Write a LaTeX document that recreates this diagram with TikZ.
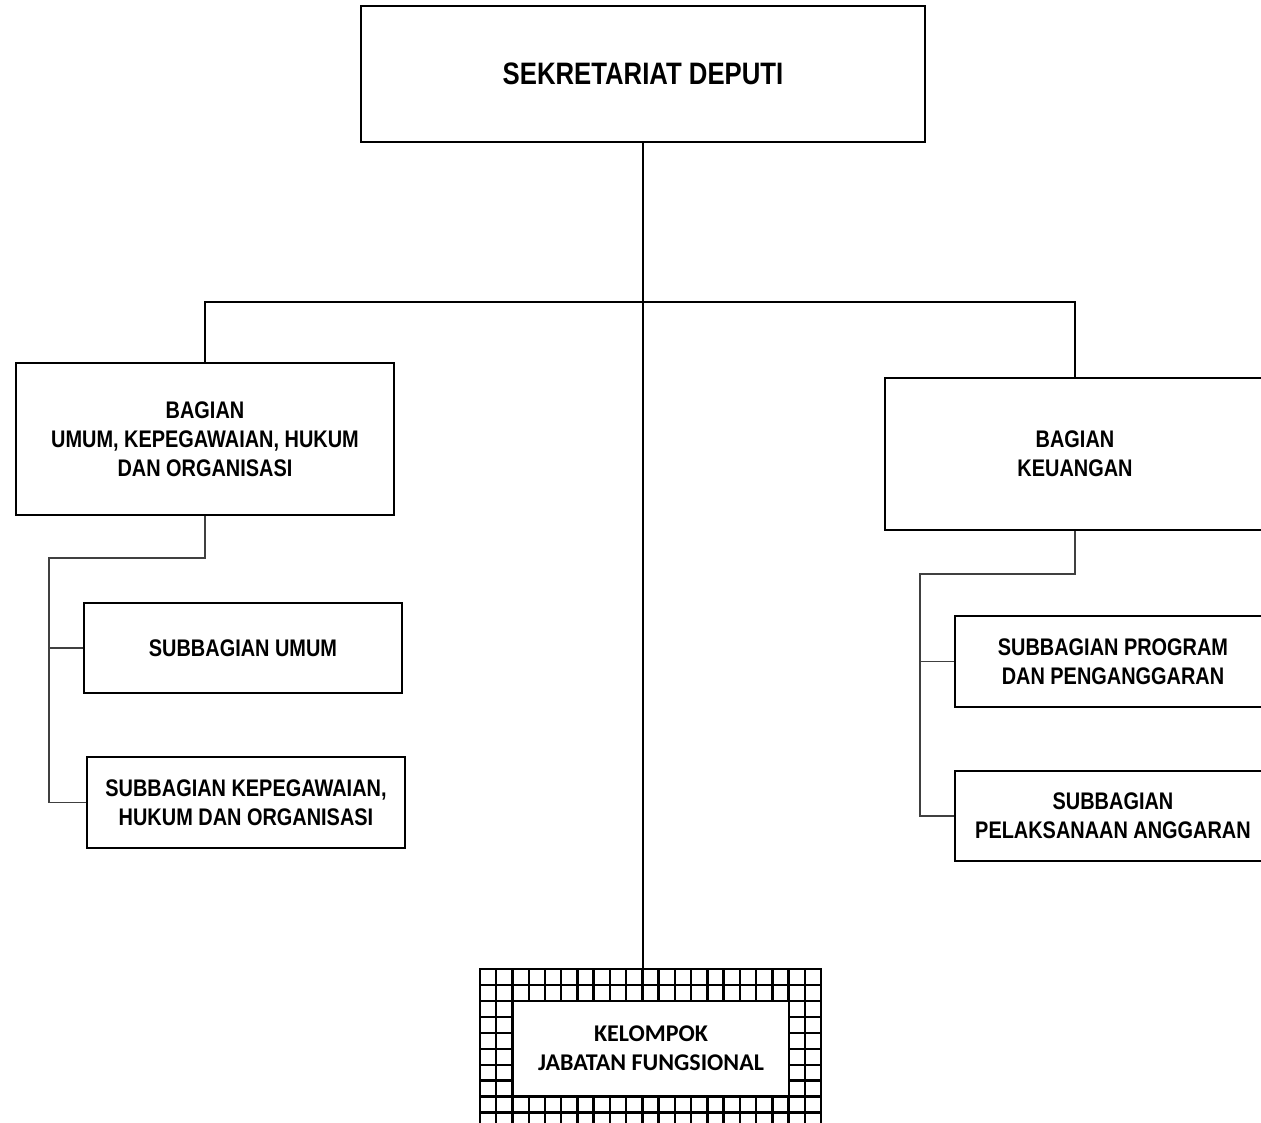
\documentclass[tikz,border=0pt]{standalone}
\usepackage{fontspec}
\newfontfamily\narrowsans{Liberation Sans}[FakeStretch=0.83]
\newfontfamily\calibsans{Carlito}
\begin{document}
\begin{tikzpicture}[x=1pt,y=-1pt,
  box/.style={draw=black,line width=2.2pt,fill=white,inner sep=0pt,align=center,
    font=\narrowsans\bfseries\fontsize{24}{29}\selectfont},
  trunk/.style={line width=2.2pt,black},
  twig/.style={line width=1.2pt,black!75},
  gridline/.style={line width=2.4pt,black,line cap=rect}]
\clip (0,0) rectangle (1261,1123);
\fill[white] (0,0) rectangle (1261,1123);

% top unit
\node[box,minimum width=564,minimum height=136,
  font=\narrowsans\bfseries\fontsize{31}{36}\selectfont] (sekr) at (643,74) {SEKRETARIAT DEPUTI};

% divisions
\node[box,minimum width=378,minimum height=152] (umum) at (205,439)
  {BAGIAN\\UMUM, KEPEGAWAIAN, HUKUM\\DAN ORGANISASI};
\node[box,minimum width=380,minimum height=152] (keu) at (1075,454)
  {BAGIAN\\KEUANGAN};

% subdivisions
\node[box,minimum width=318,minimum height=90] (subumum) at (243,648) {SUBBAGIAN UMUM};
\node[box,minimum width=318,minimum height=91] (subpeg) at (246,802.5)
  {SUBBAGIAN KEPEGAWAIAN,\\HUKUM DAN ORGANISASI};
\node[box,minimum width=316,minimum height=91] (subprog) at (1113,661.5)
  {SUBBAGIAN PROGRAM\\DAN PENGANGGARAN};
\node[box,minimum width=316,minimum height=90] (sublaks) at (1113,816)
  {SUBBAGIAN\\PELAKSANAAN ANGGARAN};

% functional group: grid frame with a plain inner box
\node[inner sep=0pt,minimum width=341,minimum height=182] (jfgrid) at (650.5,1060) {};
\foreach \i in {0,...,21}
  \draw[gridline] ({480+\i*16.24},969) -- ({480+\i*16.24},1151);
\foreach \j in {0,...,11}
  \draw[gridline] (480,{969+\j*15.95}) -- (821,{969+\j*15.95});
\node[box,minimum width=276,minimum height=95,
  font=\calibsans\bfseries\fontsize{24}{29}\selectfont] (kjf) at (651,1048.5)
  {KELOMPOK\\JABATAN FUNGSIONAL};

% main connectors
\coordinate (busL) at (205,302);
\coordinate (busR) at (1075,302);
\draw[trunk] (sekr.south) -- (sekr.south |- jfgrid.north);
\draw[trunk] (umum.north) -- (busL) -- (busR) -- (keu.north);

% left subdivision connectors
\coordinate (lspine) at (49,558);
\draw[twig] (umum.south) |- (lspine) |- (subpeg.west);
\draw[twig] (lspine |- subumum.west) -- (subumum.west);

% right subdivision connectors
\coordinate (rspine) at (920,574);
\draw[twig] (keu.south) |- (rspine) |- (sublaks.west);
\draw[twig] (rspine |- subprog.west) -- (subprog.west);
\end{tikzpicture}
\end{document}
